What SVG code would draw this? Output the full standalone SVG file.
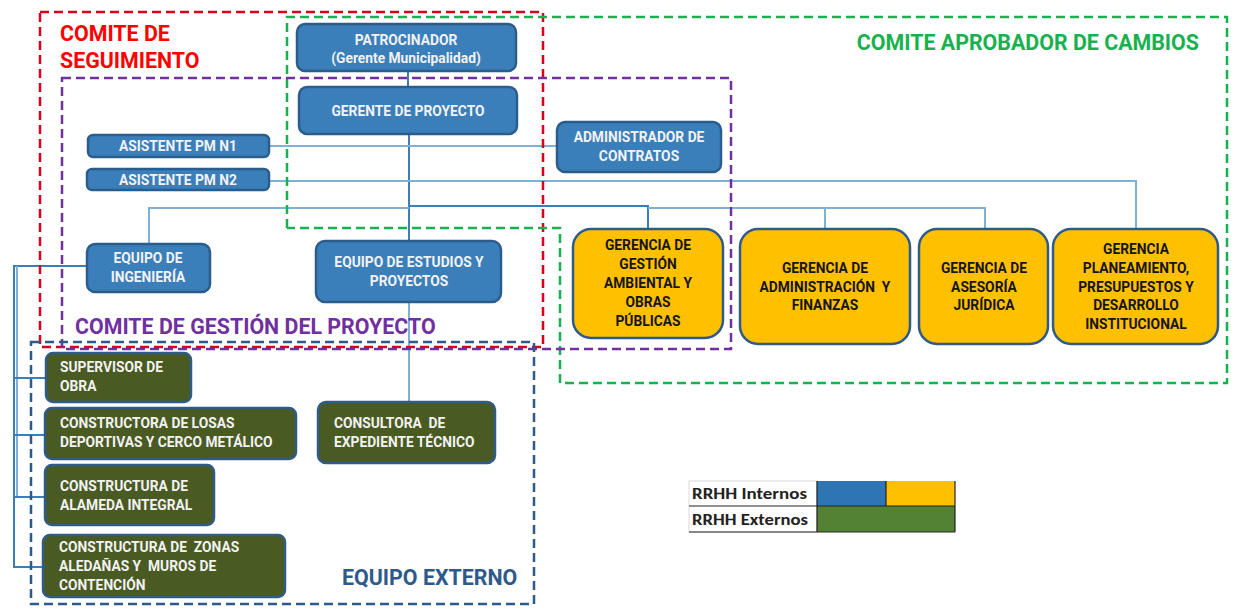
<svg xmlns="http://www.w3.org/2000/svg" width="1240" height="611" viewBox="0 0 1240 611">
<style>
text{font-family:Roboto,"Liberation Sans",sans-serif;font-weight:bold;transform-box:fill-box;transform-origin:center;transform:scaleX(.92);white-space:pre}
.t{font-size:15px;text-anchor:middle}
.w{fill:#f2f2f2}
.k{fill:#151515}
.l{text-anchor:start;transform-origin:left center}
.bl{fill:#3b7fba;stroke:#2b5d8c;stroke-width:2.5}
.ye{fill:#ffc000;stroke:#2f5b88;stroke-width:2.5}
.gr{fill:#4a5a23;stroke:#2f5b88;stroke-width:2.5}
.c{fill:none;stroke:#7fb0da;stroke-width:2}
.cd{fill:none;stroke:#3b7fba;stroke-width:2}
.frame{fill:none;stroke-width:2.5;stroke-dasharray:9 5}
.title{font-size:23px;transform:scaleX(.93)}
.r{text-anchor:end;transform-origin:right center}
.lg{font-family:Carlito,"Noto Sans","Liberation Sans",sans-serif;font-size:15px;font-weight:bold;fill:#222;transform:none}
</style>
<rect width="1240" height="611" fill="#fff"/>
<g id="connectors">
<path class="cd" d="M408 71V87"/>
<path class="cd" d="M409 134V241"/>
<path class="c" d="M269 146H557"/>
<path class="c" d="M269 181H1136V229"/>
<path class="c" d="M409 208H149V244"/>
<path class="cd" d="M409 206H648V229"/>
<path class="c" d="M648 208H985V229M825 208V229"/>
<path class="c" d="M409 302V402"/>
<path class="cd" d="M87 266H14V567H43"/>
<path class="c" d="M17 266V497"/>
<path class="cd" d="M14 378H46M14 435H45M14 497H45"/>
</g>
<g id="frames">
<rect class="frame" x="40" y="12" width="503" height="335" stroke="#d9001b"/>
<path class="frame" d="M287 228V17H1227V383H560V228H287" stroke="#17b24f"/>
<rect class="frame" x="62" y="78" width="669" height="271" stroke="#7030a0"/>
<rect class="frame" x="31" y="342" width="503" height="262" stroke="#2e5a8a"/>
<text class="title l" x="60" y="41" fill="#ff0000">COMITE DE</text>
<text class="title l" x="60" y="68" fill="#ff0000">SEGUIMIENTO</text>
<text class="title r" x="1199" y="50" fill="#17b24f">COMITE APROBADOR DE CAMBIOS</text>
<text class="title l" x="75" y="334" fill="#7030a0">COMITE DE GESTIÓN DEL PROYECTO</text>
<text class="title l" x="342" y="585" fill="#2e5a8a">EQUIPO EXTERNO</text>
</g>
<g id="patrocinador"><rect class="bl" x="297" y="24" width="219" height="47" rx="8"/><text class="t w" x="406" y="45">PATROCINADOR</text><text class="t w" x="406" y="63">(Gerente Municipalidad)</text></g>
<g id="gerente"><rect class="bl" x="299" y="87" width="218" height="47" rx="8"/><text class="t w" x="408" y="116">GERENTE DE PROYECTO</text></g>
<g id="asistente1"><rect class="bl" x="88" y="135" width="181" height="22" rx="5"/><text class="t w" x="178" y="151">ASISTENTE PM N1</text></g>
<g id="asistente2"><rect class="bl" x="87" y="169" width="182" height="21" rx="5"/><text class="t w" x="178" y="185">ASISTENTE PM N2</text></g>
<g id="administrador"><rect class="bl" x="557" y="122" width="164" height="50" rx="8"/><text class="t w" x="639" y="142">ADMINISTRADOR DE</text><text class="t w" x="639" y="161">CONTRATOS</text></g>
<g id="ingenieria"><rect class="bl" x="87" y="244" width="123" height="48" rx="8"/><text class="t w" x="148" y="263">EQUIPO DE</text><text class="t w" x="148" y="282">INGENIERÍA</text></g>
<g id="estudios"><rect class="bl" x="316" y="241" width="185" height="61" rx="9"/><text class="t w" x="409" y="267">EQUIPO DE ESTUDIOS Y</text><text class="t w" x="409" y="286">PROYECTOS</text></g>
<g id="g-ambiental"><rect class="ye" x="573" y="229" width="150" height="109" rx="18"/><text class="t k" x="648" y="250">GERENCIA DE</text><text class="t k" x="648" y="269">GESTIÓN</text><text class="t k" x="648" y="288">AMBIENTAL Y</text><text class="t k" x="648" y="307">OBRAS</text><text class="t k" x="648" y="326">PÚBLICAS</text></g>
<g id="g-administracion"><rect class="ye" x="740" y="229" width="170" height="115" rx="18"/><text class="t k" x="825" y="273">GERENCIA DE</text><text class="t k" x="825" y="292">ADMINISTRACIÓN  Y</text><text class="t k" x="825" y="310">FINANZAS</text></g>
<g id="g-juridica"><rect class="ye" x="919" y="229" width="129" height="115" rx="18"/><text class="t k" x="984" y="273">GERENCIA DE</text><text class="t k" x="984" y="292">ASESORÍA</text><text class="t k" x="984" y="310">JURÍDICA</text></g>
<g id="g-planeamiento"><rect class="ye" x="1053" y="229" width="165" height="115" rx="18"/><text class="t k" x="1136" y="254">GERENCIA</text><text class="t k" x="1136" y="273">PLANEAMIENTO,</text><text class="t k" x="1136" y="292">PRESUPUESTOS Y</text><text class="t k" x="1136" y="310">DESARROLLO</text><text class="t k" x="1136" y="329">INSTITUCIONAL</text></g>
<g id="supervisor"><rect class="gr" x="46" y="353" width="145" height="49" rx="7"/><text class="t w l" x="60" y="372">SUPERVISOR DE</text><text class="t w l" x="60" y="391">OBRA</text></g>
<g id="losas"><rect class="gr" x="45" y="408" width="251" height="51" rx="7"/><text class="t w l" x="60" y="428">CONSTRUCTORA DE LOSAS</text><text class="t w l" x="60" y="447">DEPORTIVAS Y CERCO METÁLICO</text></g>
<g id="alameda"><rect class="gr" x="45" y="465" width="169" height="60" rx="7"/><text class="t w l" x="60" y="491">CONSTRUCTURA DE</text><text class="t w l" x="60" y="510">ALAMEDA INTEGRAL</text></g>
<g id="zonas"><rect class="gr" x="43" y="535" width="242" height="62" rx="7"/><text class="t w l" x="59" y="552">CONSTRUCTURA DE  ZONAS</text><text class="t w l" x="59" y="571">ALEDAÑAS Y  MUROS DE</text><text class="t w l" x="59" y="590">CONTENCIÓN</text></g>
<g id="consultora"><rect class="gr" x="318" y="402" width="177" height="61" rx="8"/><text class="t w l" x="334" y="428">CONSULTORA  DE</text><text class="t w l" x="334" y="447">EXPEDIENTE TÉCNICO</text></g>
<g id="legend">
<rect x="689" y="481" width="128" height="51" fill="#fff" stroke="#d9d9d9"/>
<rect x="817" y="481" width="69" height="25" fill="#2e75b6"/>
<rect x="886" y="481" width="69" height="25" fill="#ffc000"/>
<rect x="817" y="506" width="138" height="26" fill="#548235"/>
<path d="M817 481V532M886 481V506M689 506H955M689 532H955M955 481V532" fill="none" stroke="#222" stroke-width="1.2"/>
<text class="lg" x="692" y="499" textLength="115" lengthAdjust="spacingAndGlyphs">RRHH Internos</text>
<text class="lg" x="692" y="525" textLength="116" lengthAdjust="spacingAndGlyphs">RRHH Externos</text>
</g>
</svg>
